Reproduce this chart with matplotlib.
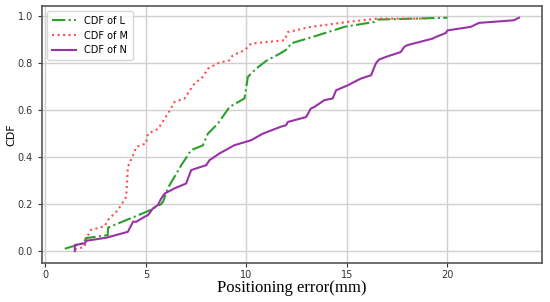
import matplotlib
matplotlib.use("Agg")
import matplotlib.pyplot as plt

# CDF of L (green dash-dot)
l_x = [0.96, 1.94, 2.0, 3.1, 3.12, 5.1, 5.76, 5.85, 6.1, 6.76, 7.25, 7.83, 8.08, 8.58,
       9.16, 9.9, 10.07, 10.48, 10.98, 11.64, 12.06, 12.2, 13.55, 14.87, 16.36, 16.5, 20.0]
l_y = [0.01, 0.035, 0.055, 0.068, 0.10, 0.17, 0.20, 0.21, 0.27, 0.366, 0.43, 0.45, 0.50, 0.543,
       0.614, 0.65, 0.742, 0.777, 0.81, 0.84, 0.862, 0.884, 0.919, 0.955, 0.976, 0.986, 0.994]

# CDF of M (red dotted)
m_x = [1.46, 1.95, 2.04, 2.25, 2.95, 3.1, 3.6, 4.02, 4.1, 4.36, 4.52, 5.0, 5.1, 5.6,
       6.1, 6.42, 6.92, 7.42, 7.83, 8.08, 8.58, 9.16, 9.32, 9.9, 10.23, 11.9, 12.06,
       13.2, 15.04, 16.5, 18.9]
m_y = [0.007, 0.018, 0.054, 0.09, 0.106, 0.132, 0.174, 0.231, 0.359, 0.408, 0.444, 0.458, 0.50, 0.52,
       0.586, 0.635, 0.65, 0.714, 0.742, 0.777, 0.80, 0.813, 0.834, 0.855, 0.884, 0.898, 0.933,
       0.955, 0.976, 0.99, 0.99]

# CDF of N (purple solid)
n_x = [1.46, 1.46, 1.95, 2.04, 3.03, 4.1, 4.36, 4.52, 4.93, 5.1, 5.35, 5.6, 5.76, 5.93, 6.42,
       7.0, 7.25, 8.0, 8.16, 8.66, 9.4, 10.23, 10.81, 11.72, 11.97, 12.06, 12.97, 13.2, 13.38,
       13.88, 14.29, 14.46, 15.04, 15.53, 15.7, 16.2, 16.44, 16.6, 16.94, 17.68, 17.85, 18.0,
       19.26, 19.42, 19.92, 20.0, 21.16, 21.57, 23.3, 23.56]
n_y = [0.0, 0.026, 0.033, 0.044, 0.057, 0.082, 0.125, 0.125, 0.146, 0.153, 0.182, 0.196, 0.224,
       0.245, 0.267, 0.288, 0.345, 0.366, 0.387, 0.416, 0.451, 0.472, 0.50, 0.53, 0.536, 0.55,
       0.571, 0.607, 0.614, 0.643, 0.65, 0.685, 0.706, 0.728, 0.735, 0.749, 0.80, 0.816, 0.827,
       0.848, 0.87, 0.877, 0.905, 0.912, 0.929, 0.94, 0.955, 0.972, 0.983, 0.994]

labels = ["CDF of L", "CDF of M", "CDF of N"]

fig = plt.figure(figsize=(5.5, 3.02), dpi=100)
ax = fig.add_axes([0.0764, 0.130, 0.9086, 0.850])

ax.plot(l_x, l_y, linestyle="-.", color="#2ca02c", linewidth=1.5, label=labels[0], zorder=3)
ax.plot(m_x, m_y, linestyle=":", color="#ff4d4d", linewidth=1.5, label=labels[1], zorder=3)
ax.plot(n_x, n_y, linestyle="-", color="#9932a8", linewidth=1.5, label=labels[2], zorder=3)

ax.set_xticks([0, 5, 10, 15, 20])
ax.set_yticks([0.0, 0.2, 0.4, 0.6, 0.8, 1.0])
ax.tick_params(labelsize=7, length=3, colors="#333333")
ax.tick_params(axis="x", pad=2)
ax.grid(True, color="#d0d0d0", linewidth=1)
ax.set_axisbelow(True)
for s in ax.spines.values():
    s.set_color("#555555")
    s.set_linewidth(1.2)

ax.set_xlabel("Positioning error(mm)", family="Liberation Serif", fontsize=12, labelpad=0)
ax.set_ylabel("CDF", fontsize=8)
ax.yaxis.set_label_coords(-0.052, 0.5)

leg = ax.legend(loc="upper left", fontsize=7, frameon=True, borderpad=0.5, handlelength=2.5)
leg.get_frame().set_edgecolor("#cccccc")

fig.savefig("out.png", dpi=100)
